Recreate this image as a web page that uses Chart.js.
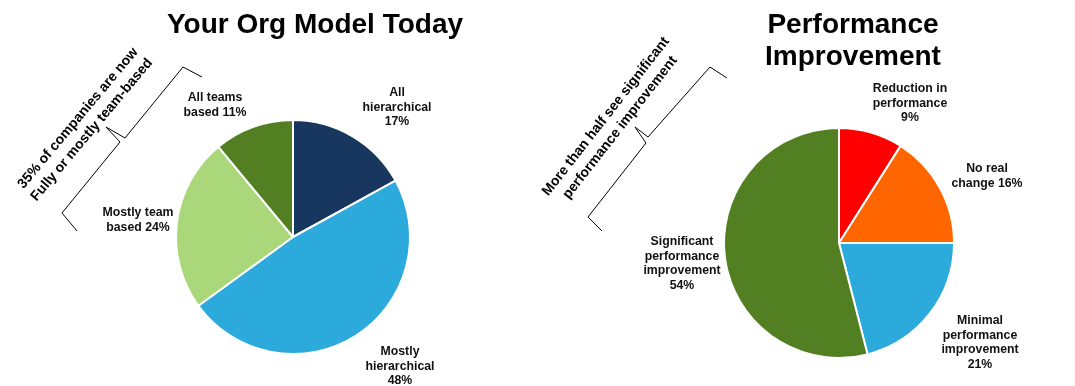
<!DOCTYPE html>
<html>
<head>
<meta charset="utf-8">
<script src="https://cdn.jsdelivr.net/npm/chart.js@4.4.1/dist/chart.umd.min.js"></script>
<style>
  html, body { margin: 0; padding: 0; background: #fff; }
  #wrap { position: relative; width: 1075px; height: 386px; }
  #wrap canvas { position: absolute; left: 0; top: 0; }
</style>
</head>
<body>
<div id="wrap">
  <canvas id="org" width="1075" height="386"></canvas>
  <canvas id="perf" width="1075" height="386"></canvas>
</div>
<script>
// left chart: org model
var orgLabels = ['All hierarchical', 'Mostly hierarchical', 'Mostly team based', 'All teams based'];
var orgValues = [17, 48, 24, 11];
var orgColors = ['#17375e', '#2caadc', '#a9d779', '#537f23'];
var orgText = [['All', 'hierarchical', '{v}%'], ['Mostly', 'hierarchical', '{v}%'], ['Mostly team', 'based {v}%'], ['All teams', 'based {v}%']];

// right chart: performance
var perfLabels = ['Reduction in performance', 'No real change', 'Minimal performance improvement', 'Significant performance improvement'];
var perfValues = [9, 16, 21, 54];
var perfColors = ['#ff0000', '#ff6600', '#2caadc', '#537f23'];
var perfText = [['Reduction in', 'performance', '{v}%'], ['No real', 'change {v}%'], ['Minimal', 'performance', 'improvement', '{v}%'], ['Significant', 'performance', 'improvement', '{v}%']];

var FONT = '"Liberation Sans", Arial, sans-serif';

function drawDecor(chart, d) {
	var ctx = chart.ctx;
	ctx.save();
	ctx.textAlign = 'center';

	// title
	ctx.fillStyle = '#000';
	ctx.textBaseline = 'alphabetic';
	ctx.font = 'bold 28px ' + FONT;
	d.title.forEach(function (line, i) {
		ctx.fillText(line, d.titleX, d.titleY + i * 32);
	});

	// slice labels
	ctx.fillStyle = '#111';
	ctx.textBaseline = 'middle';
	ctx.font = 'bold 12.3px ' + FONT;
	d.pos.forEach(function (p, i) {
		d.text[i].forEach(function (line, j) {
			ctx.fillText(line.replace('{v}', d.values[i]), p[0], p[1] + j * 14.5);
		});
	});

	// rotated note
	ctx.fillStyle = '#000';
	ctx.font = 'bold 14px ' + FONT;
	ctx.translate(d.note.x, d.note.y);
	ctx.rotate(d.note.angle * Math.PI / 180);
	var n = d.note.lines.length;
	d.note.lines.forEach(function (line, j) {
		ctx.fillText(line, 0, (j - (n - 1) / 2) * 18);
	});
	ctx.setTransform(1, 0, 0, 1, 0, 0);

	// brace
	ctx.strokeStyle = '#000';
	ctx.lineWidth = 1;
	ctx.beginPath();
	d.brace.forEach(function (p, i) {
		if (i === 0) ctx.moveTo(p[0], p[1]); else ctx.lineTo(p[0], p[1]);
	});
	ctx.stroke();
	ctx.restore();
}

function makePie(id, labels, values, colors, padding, decor) {
	var ctx = document.getElementById(id).getContext('2d');
	return new Chart(ctx, {
		type: 'pie',
		data: {
			labels: labels,
			datasets: [{
				data: values,
				backgroundColor: colors,
				borderColor: '#ffffff',
				borderWidth: 2
			}]
		},
		options: {
			responsive: false,
			animation: false,
			events: [],
			layout: { padding: padding },
			plugins: {
				legend: { display: false },
				tooltip: { enabled: false }
			}
		},
		plugins: [{
			id: 'decor',
			afterDraw: function (chart) { drawDecor(chart, decor); }
		}]
	});
}

makePie('org', orgLabels, orgValues, orgColors,
	{ left: 175, top: 119, right: 664, bottom: 31 },
	{
		title: ['Your Org Model Today'], titleX: 315, titleY: 33,
		values: orgValues, text: orgText,
		pos: [[397, 93], [400, 352], [138, 213], [215, 98]],
		note: { x: 85, y: 124, angle: -50, lines: ['35% of companies are now', 'Fully or mostly team-based'] },
		brace: [[202, 77], [183, 67], [125, 138], [106, 127], [120, 142], [62, 213], [77, 231]]
	});

makePie('perf', perfLabels, perfValues, perfColors,
	{ left: 723, top: 127, right: 120, bottom: 27 },
	{
		title: ['Performance', 'Improvement'], titleX: 853, titleY: 33,
		values: perfValues, text: perfText,
		pos: [[910, 89], [987, 169], [980, 321], [682, 242]],
		note: { x: 613, y: 122, angle: -52, lines: ['More than half see significant', 'performance improvement'] },
		brace: [[727, 78], [710, 67], [648, 137], [635, 127], [646, 143], [588, 217], [602, 231]]
	});
</script>
</body>
</html>
